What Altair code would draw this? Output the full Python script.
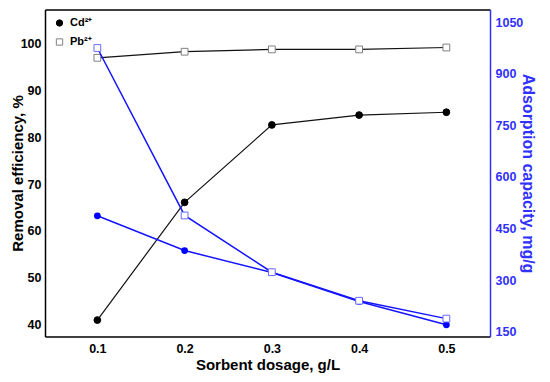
import altair as alt
import pandas as pd

dosage = [0.1, 0.2, 0.3, 0.4, 0.5]
ions = ["Cd²⁺", "Pb²⁺"]
cd_removal = [41.0, 66.1, 82.6, 84.7, 85.3]
pb_removal = [96.9, 98.2, 98.7, 98.7, 99.1]
cd_capacity = [487, 386, 322, 238, 170]
pb_capacity = [975, 488, 323, 240, 188]

left_ticks = [40, 50, 60, 70, 80, 90, 100]
right_ticks = [150, 300, 450, 600, 750, 900, 1050]
x_ticks = [0.1, 0.2, 0.3, 0.4, 0.5]

removal = pd.DataFrame({
    "dosage": dosage + dosage,
    "ion": [ions[0]] * len(dosage) + [ions[1]] * len(dosage),
    "value": cd_removal + pb_removal,
})
capacity = pd.DataFrame({
    "dosage": dosage + dosage,
    "ion": [ions[0]] * len(dosage) + [ions[1]] * len(dosage),
    "value": cd_capacity + pb_capacity,
})

FONT = "Liberation Sans"
BLUE_AX = "#3030ff"

x_scale = alt.Scale(domain=[0.04, 0.55], nice=False, zero=False)
x_bottom = alt.X(
    "dosage:Q", scale=x_scale,
    axis=alt.Axis(
        orient="bottom", values=x_ticks, format=".1f", title="Sorbent dosage, g/L",
        ticks=False, grid=False, domainColor="black", domainWidth=1.5,
        labelFont=FONT, labelFontSize=12.5, labelFontWeight="bold", labelColor="black",
        labelPadding=6, titleFont=FONT, titleFontSize=15, titleFontWeight="bold",
        titleColor="black", titlePadding=2,
    ),
)
x_top = alt.X(
    "dosage:Q", scale=x_scale,
    axis=alt.Axis(orient="top", labels=False, ticks=False, grid=False, title=None,
                  domainColor="black", domainWidth=1.5),
)
y_left = alt.Y(
    "value:Q", scale=alt.Scale(domain=[37.5, 107.2], nice=False, zero=False),
    axis=alt.Axis(
        values=left_ticks, format="d", title="Removal efficiency, %", ticks=False, grid=False,
        domainColor="black", domainWidth=1.5,
        labelFont=FONT, labelFontSize=12.5, labelFontWeight="bold", labelColor="black",
        labelPadding=4, titleFont=FONT, titleFontSize=15, titleFontWeight="bold",
        titleColor="black", titlePadding=-5,
    ),
)
y_right = alt.Y(
    "value:Q", scale=alt.Scale(domain=[136, 1087], nice=False, zero=False),
    axis=alt.Axis(
        orient="right", values=right_ticks, format="d", title="Adsorption capacity, mg/g",
        ticks=False, grid=False, domainColor=BLUE_AX, domainWidth=1.5,
        labelFont=FONT, labelFontSize=12.5, labelFontWeight="bold", labelColor=BLUE_AX,
        labelPadding=5, titleFont=FONT, titleFontSize=16, titleFontWeight="bold",
        titleColor=BLUE_AX, titlePadding=-3,
    ),
)

leg = alt.Legend(
    orient="none", legendX=9, legendY=8, title=None, padding=0,
    labelFont=FONT, labelFontSize=11, labelFontWeight="bold", labelColor="black",
    symbolSize=40, symbolStrokeWidth=1, rowPadding=7, labelOffset=5,
)

black_line = alt.Chart(removal).mark_line(color="#111111", strokeWidth=1.2).encode(
    x=x_bottom, y=y_left, detail="ion:N"
)
black_pts = alt.Chart(removal).mark_point(opacity=1, size=46, strokeWidth=1).encode(
    x=x_bottom, y=y_left,
    shape=alt.Shape("ion:N", scale=alt.Scale(domain=ions, range=["circle", "square"]), legend=leg),
    fill=alt.Fill("ion:N", scale=alt.Scale(domain=ions, range=["black", "white"]), legend=leg),
    stroke=alt.Stroke("ion:N", scale=alt.Scale(domain=ions, range=["black", "#808080"]), legend=leg),
)

blue_line = alt.Chart(capacity).mark_line(color="#1414ff", strokeWidth=1.5).encode(
    x=x_top, y=y_right, detail="ion:N"
)
blue_circles = alt.Chart(capacity).transform_filter(
    alt.datum.ion == ions[0]
).mark_point(shape="circle", filled=True, color="#0000ff", size=46, opacity=1).encode(
    x=x_top, y=y_right
)
blue_squares = alt.Chart(capacity).transform_filter(
    alt.datum.ion == ions[1]
).mark_point(shape="square", fill="white", fillOpacity=1, stroke="#6a6aff",
             strokeWidth=1, size=46, opacity=1).encode(
    x=x_top, y=y_right
)

left = alt.layer(black_line, black_pts)
right = alt.layer(blue_line, blue_circles, blue_squares)

chart = alt.layer(left, right).resolve_scale(y="independent").resolve_axis(
    x="independent"
).properties(
    width=445, height=327,
    padding={"left": 37, "top": 1.5, "right": 52, "bottom": 37},
    autosize=alt.AutoSizeParams(type="none"),
    background="white",
).configure_view(stroke=None)

chart.save("out.html", embed_options={"renderer": "svg", "actions": False})
